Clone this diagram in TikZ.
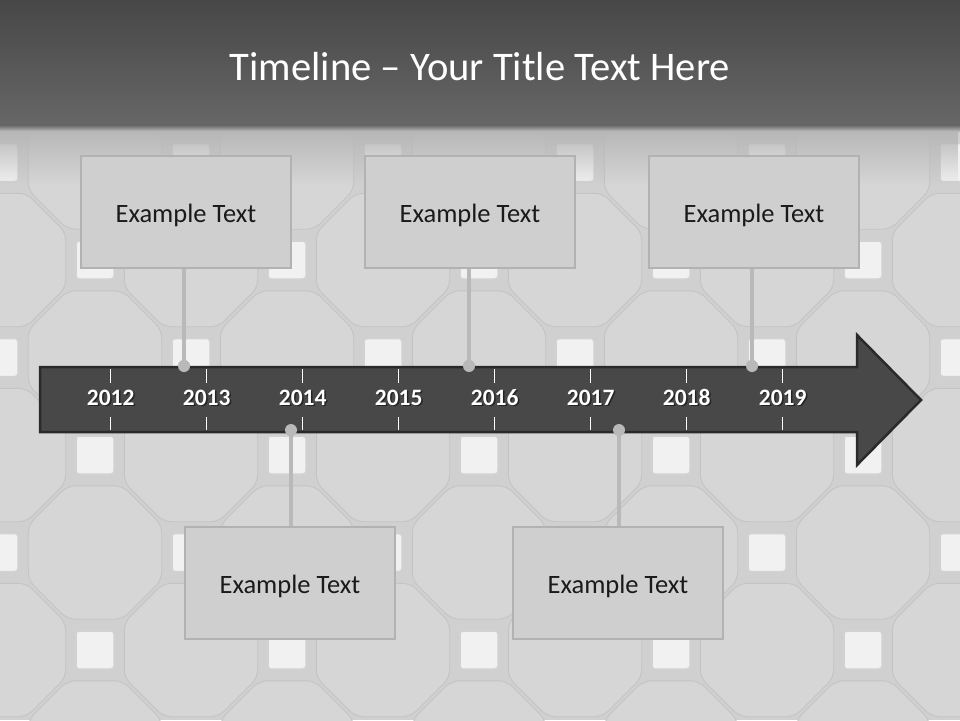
\documentclass[tikz,border=0pt]{standalone}
\usepackage{fontspec}
\setmainfont{Carlito}
\usetikzlibrary{fadings}
\definecolor{bgc}{HTML}{D0D0D0}
\definecolor{tilec}{HTML}{D6D6D6}
\definecolor{tileline}{HTML}{C4C4C4}
\definecolor{sqc}{HTML}{F1F1F1}
\definecolor{sqline}{HTML}{D2D2D2}
\definecolor{hdtop}{HTML}{474747}
\definecolor{hdbot}{HTML}{676767}
\definecolor{fadec}{HTML}{B6B6B6}
\definecolor{boxfill}{HTML}{CFCFCF}
\definecolor{boxline}{HTML}{B2B2B2}
\definecolor{conn}{HTML}{B9B9B9}
\definecolor{arrowfill}{HTML}{484848}
\definecolor{arrowline}{HTML}{2A2A2A}
\definecolor{txt}{HTML}{1A1A1A}
\tikzset{
  tile/.style={fill=tilec, draw=tileline, line width=0.9pt, rounded corners=8pt},
  sq/.style={fill=sqc, draw=sqline, line width=1.5pt, rounded corners=3pt},
  evbox/.style={draw=boxline, fill=boxfill, line width=2.5pt, minimum width=210pt, minimum height=112pt, inner sep=0pt},
  evtext/.style={font=\fontsize{26.5}{30}\selectfont, text=txt, inner sep=0pt, anchor=base},
  connline/.style={draw=conn, line width=4pt},
  dotc/.style={circle, fill=conn, inner sep=0pt, minimum size=12pt},
  tickl/.style={draw=white, line width=1.3pt},
  yearlbl/.style={font=\bfseries\fontsize{23.5}{26}\selectfont, text=white, inner sep=0pt, anchor=base},
  yearshadow/.style={font=\bfseries\fontsize{23.5}{26}\selectfont, text=black, opacity=0.5, inner sep=0pt, anchor=base},
}
\begin{document}
\begin{tikzpicture}[x=1pt,y=-1pt]
\useasboundingbox (0,0) rectangle (960,720);
% background
\fill[bgc] (0,0) rectangle (960,720);
% octagon tiles and squares
\foreach \a in {-1,...,11}{
  \foreach \b in {-4,...,3}{
    \pgfmathsetmacro{\cx}{-1+96*\a}
    \pgfmathsetmacro{\cy}{455+97.5*\b}
    \pgfmathtruncatemacro{\tpar}{mod(\a+\b+20,2)}
    \ifnum\tpar=0
      \draw[tile,shift={(\cx,\cy)}] (22.5:72.2) -- (67.5:72.2) -- (112.5:72.2) -- (157.5:72.2) -- (202.5:72.2) -- (247.5:72.2) -- (292.5:72.2) -- (337.5:72.2) -- cycle;
    \else
      \draw[sq] (\cx-19,\cy-19) rectangle (\cx+19,\cy+19);
    \fi
  }
}
% header band
\shade[top color=hdtop, bottom color=hdbot] (0,0) rectangle (960,126);
\fill[fadec, path fading=south] (0,128) rectangle (960,185);
\shade[top color=hdbot, bottom color=fadec] (0,125) rectangle (960,131);
% title
\node[font=\fontsize{40.6}{46}\selectfont, text=white] (title) at (480,67) {Timeline – Your Title Text Here};
% event boxes
\node[evbox] (b1) at (186,212) {};
\node[evbox] (b2) at (470,212) {};
\node[evbox] (b3) at (754,212) {};
\node[evbox] (b4) at (290,583) {};
\node[evbox] (b5) at (618,583) {};
\node[evtext] (t1) at (186,222) {Example Text};
\node[evtext] (t2) at (470,222) {Example Text};
\node[evtext] (t3) at (754,222) {Example Text};
\node[evtext] (t4) at (290,593) {Example Text};
\node[evtext] (t5) at (618,593) {Example Text};
% dots (positions)
\node[dotc] (d1) at (184,366) {};
\node[dotc] (d2) at (469,366) {};
\node[dotc] (d3) at (752,366) {};
\node[dotc] (d4) at (291,430) {};
\node[dotc] (d5) at (619,430) {};
% connectors
\draw[connline] (d1.center) -- (d1 |- b1.south);
\draw[connline] (d2.center) -- (d2 |- b2.south);
\draw[connline] (d3.center) -- (d3 |- b3.south);
\draw[connline] (d4.center) -- (d4 |- b4.north);
\draw[connline] (d5.center) -- (d5 |- b5.north);
% arrow
\draw[fill=arrowfill, draw=arrowline, line width=2.5pt, line join=miter]
  (40,367) -- (857,367) -- (857,335) -- (921,400) -- (857,465) -- (857,432) -- (40,432) -- cycle;
% ticks and years
\foreach \i/\yr in {0/2012,1/2013,2/2014,3/2015,4/2016,5/2017,6/2018,7/2019}{
  \pgfmathsetmacro{\tx}{110.7+96*\i}
  \draw[tickl] (\tx,369) -- (\tx,383);
  \draw[tickl] (\tx,417) -- (\tx,430);
  \node[yearshadow] at (\tx+1.5,406.5) {\yr};
  \node[yearlbl] (y\yr) at (\tx,405) {\yr};
}
% redraw dots on top
\foreach \d in {d1,d2,d3,d4,d5}{
  \fill[conn] (\d) circle (6pt);
}
\end{tikzpicture}
\end{document}
